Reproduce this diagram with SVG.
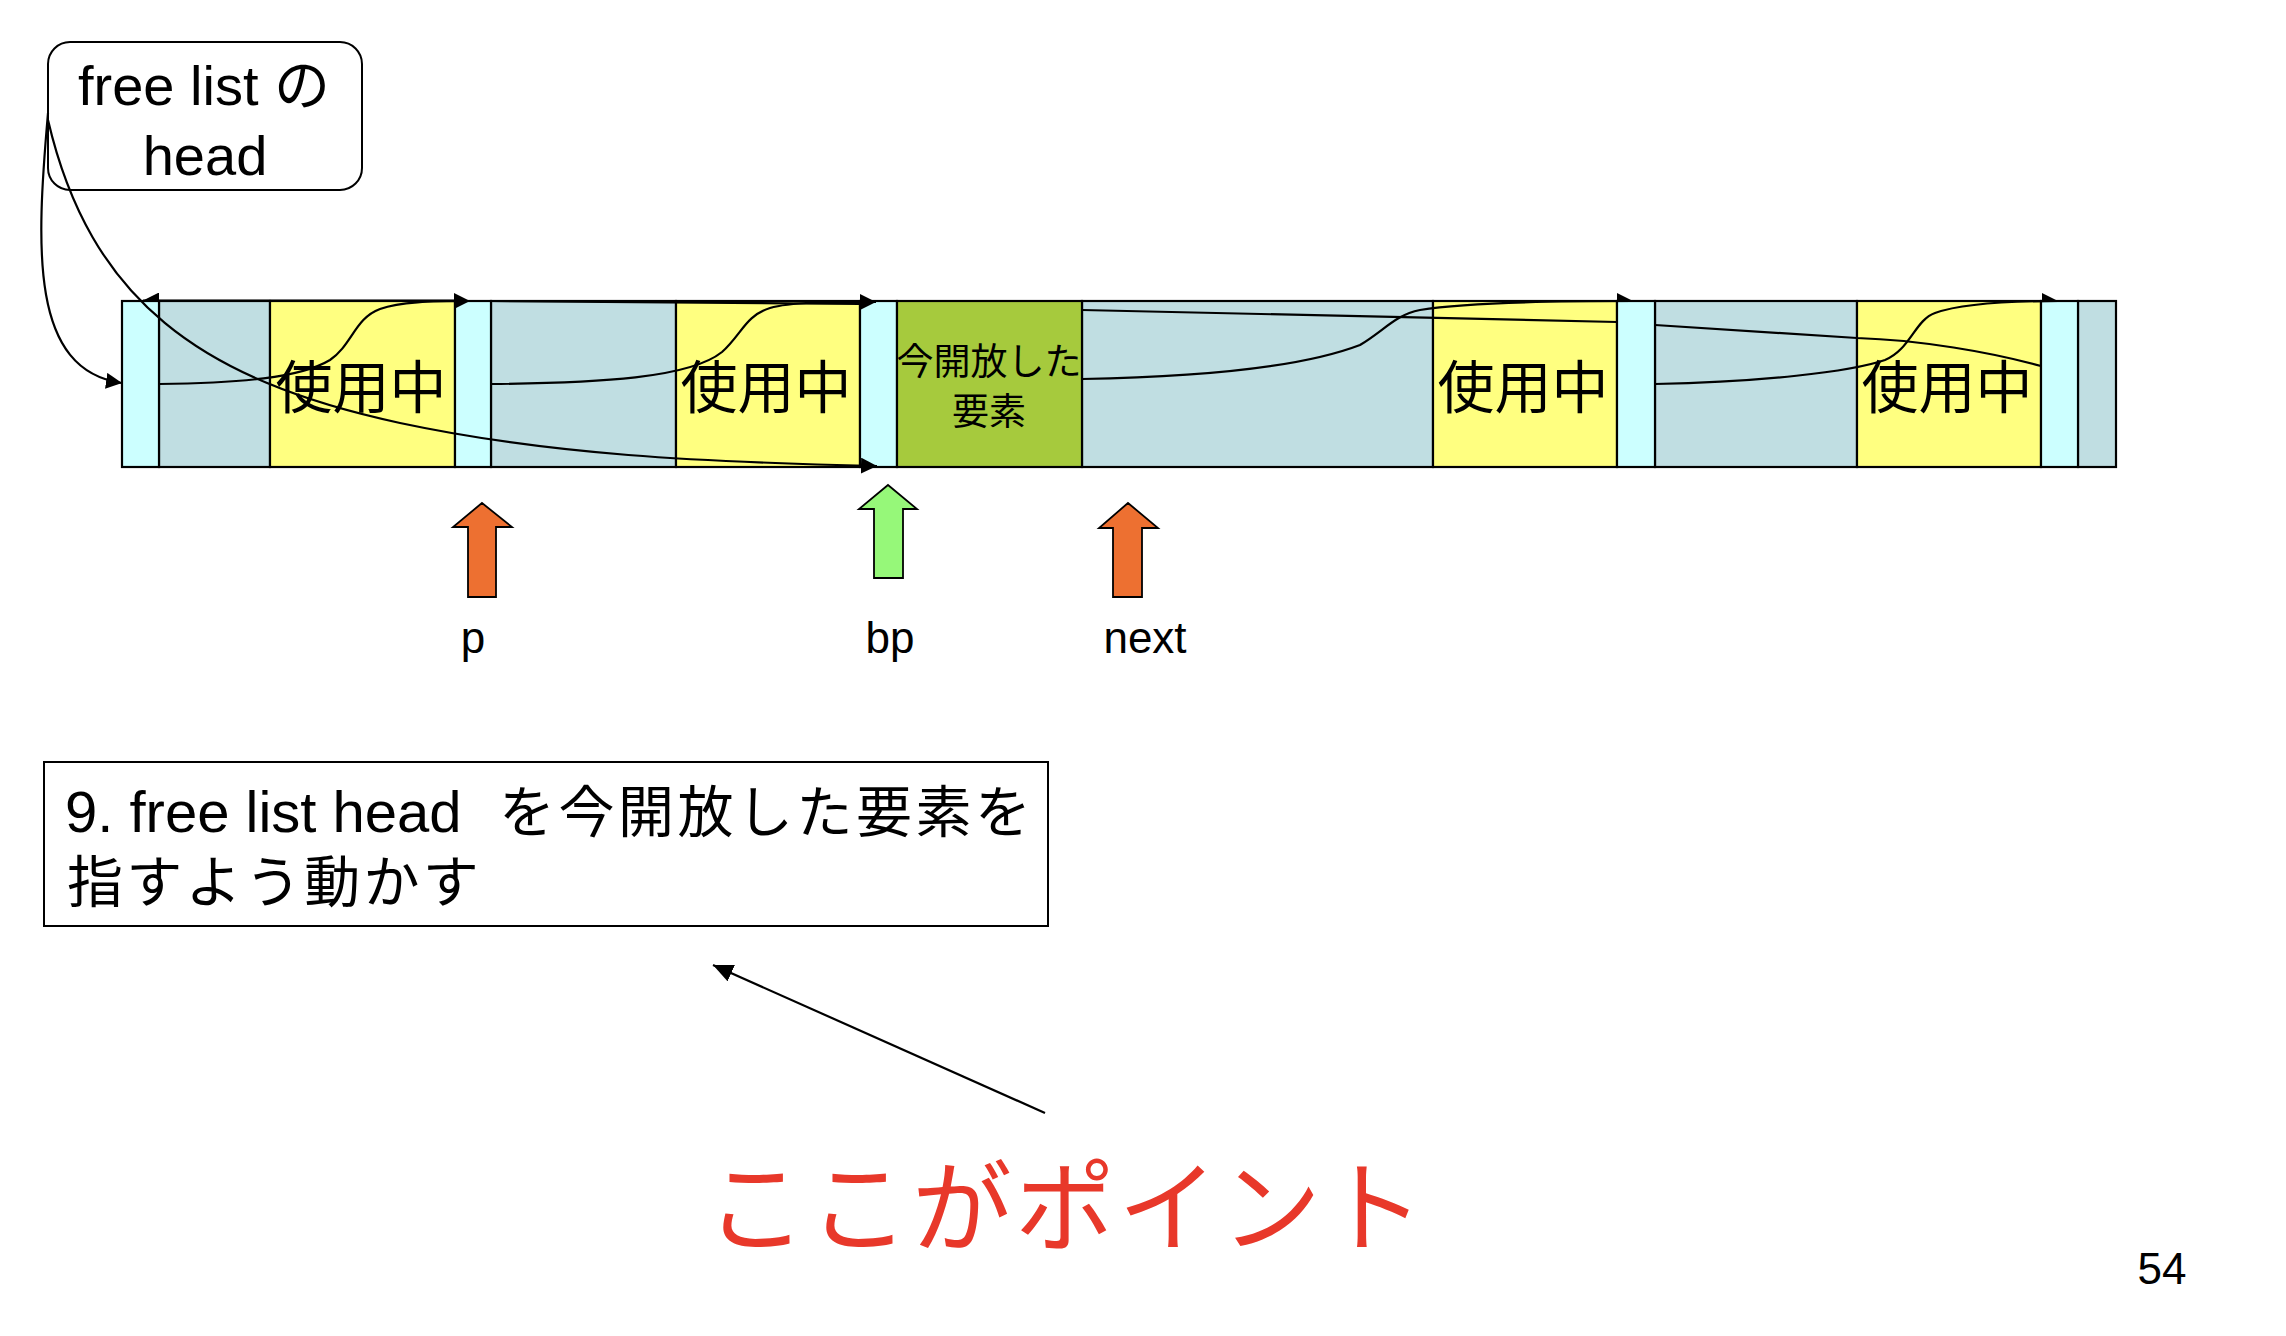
<svg xmlns="http://www.w3.org/2000/svg" width="2286" height="1336" viewBox="0 0 2286 1336">
<defs>
<style>
.t{font-family:'Liberation Sans','Noto Sans CJK JP',sans-serif;fill:#000}
.j{font-family:'Noto Sans CJK JP','Liberation Sans',sans-serif;fill:#000}
.g{fill:#C0DEE2;stroke:#000;stroke-width:2.2}
.y{fill:#FFFF80;stroke:#000;stroke-width:2.2}
.c{fill:#CCFFFF;stroke:#000;stroke-width:2.2}
.gr{fill:#A6CA3D;stroke:#000;stroke-width:2.2}
.ln{fill:none;stroke:#000;stroke-width:2.2}
.ora{fill:#ED7031;stroke:#000;stroke-width:1.8}
.lg{fill:#96F879;stroke:#000;stroke-width:1.8}
</style>
<marker id="ah" viewBox="0 0 16 16" refX="16" refY="8" markerWidth="16" markerHeight="16" markerUnits="userSpaceOnUse" orient="auto"><path d="M0,0 L16,8 L0,16 z" fill="#000"/></marker>
<marker id="ahu" viewBox="0 0 16 16" refX="16" refY="8" markerWidth="16" markerHeight="16" markerUnits="userSpaceOnUse" orient="auto"><path d="M0,0 L16,8 L0,8 z" fill="#000"/></marker>
<marker id="ahl" viewBox="0 0 16 16" refX="16" refY="8" markerWidth="16" markerHeight="16" markerUnits="userSpaceOnUse" orient="auto"><path d="M0,8 L16,8 L0,16 z" fill="#000"/></marker>
<marker id="ah2" viewBox="0 0 20 18" refX="20" refY="9" markerWidth="20" markerHeight="18" markerUnits="userSpaceOnUse" orient="auto"><path d="M0,0 L20,9 L0,18 z" fill="#000"/></marker>
</defs>
<rect width="2286" height="1336" fill="#fff"/>

<g id="freelist-head">
<rect x="48" y="42" width="314" height="148" rx="22" fill="#fff" stroke="#000" stroke-width="2"/>
<text class="t" x="204" y="105" font-size="56" text-anchor="middle">free list の</text>
<text class="t" x="205" y="175" font-size="56" text-anchor="middle">head</text>
</g>

<g id="heap">
<rect class="g" x="159" y="301" width="111" height="166"/>
<rect class="y" x="270" y="301" width="185" height="166"/>
<rect class="g" x="491" y="301" width="185" height="166"/>
<rect class="y" x="676" y="301" width="184" height="166"/>
<rect class="g" x="1082" y="301" width="351" height="166"/>
<rect class="y" x="1433" y="301" width="184" height="166"/>
<rect class="g" x="1655" y="301" width="202" height="166"/>
<rect class="y" x="1857" y="301" width="184" height="166"/>
<rect class="g" x="2078" y="301" width="38" height="166"/>
<g id="header1"><rect class="c" x="122" y="301" width="37" height="166"/></g>
<g id="header2"><rect class="c" x="455" y="301" width="36" height="166"/></g>
<g id="header3"><rect class="c" x="860" y="301" width="37" height="166"/></g>
<g id="freed"><rect class="gr" x="897" y="301" width="185" height="166"/>
<text class="t" font-size="37" text-anchor="middle"><tspan x="989" y="375">今開放した</tspan><tspan x="989" y="425">要素</tspan></text></g>
<g id="header4"><rect class="c" x="1617" y="301" width="38" height="166"/></g>
<g id="header5"><rect class="c" x="2041" y="301" width="37" height="166"/></g>
<text class="j" x="361" y="408" font-size="57" text-anchor="middle">使用中</text>
<text class="j" x="766" y="408" font-size="57" text-anchor="middle">使用中</text>
<text class="j" x="1523" y="408" font-size="57" text-anchor="middle">使用中</text>
<text class="j" x="1947" y="408" font-size="57" text-anchor="middle">使用中</text>
</g>

<g id="connectors">
<path class="ln" d="M2041,366 C1990,352 1920,340 1857,338 L1655,325 M1617,322 L1082,310 M860,304 L491,301 M455,300.6 L143,300.5" marker-end="url(#ahl)"/>
<path class="ln" d="M159,384 C240,383 300,378 330,360 C352,345 355,318 380,309 C400,302 430,301 470,301" marker-end="url(#ah)"/>
<path class="ln" d="M491,384 C600,383 690,378 722,352 C742,334 745,316 770,308 C790,302 830,302 876,302" marker-end="url(#ah)"/>
<path class="ln" d="M1082,379 C1200,377 1300,368 1360,345 C1385,330 1395,315 1420,310 C1470,302 1560,301 1633,301" marker-end="url(#ahu)"/>
<path class="ln" d="M1655,384 C1760,382 1850,372 1885,360 C1910,350 1915,320 1935,313 C1960,304 2000,301 2058,301" marker-end="url(#ahu)"/>
<path class="ln" d="M48,113 C36,250 30,370 122,383" marker-end="url(#ah)"/>
<path class="ln" d="M48,120 C90,300 200,380 400,423 C550,455 700,462 877,466" marker-end="url(#ah)"/>
<path class="ln" d="M1045,1113 L713,965" marker-end="url(#ah2)"/>
</g>

<g id="ptr-p">
<polygon class="ora" points="482,503 512,527 496,527 496,597 468,597 468,527 453,527"/>
<text class="t" x="473" y="653" font-size="44" text-anchor="middle">p</text>
</g>
<g id="ptr-bp">
<polygon class="lg" points="888,485 917,509 903,509 903,578 874,578 874,509 859,509"/>
<text class="t" x="890" y="653" font-size="44" text-anchor="middle">bp</text>
</g>
<g id="ptr-next">
<polygon class="ora" points="1128,503 1158,528 1142,528 1142,597 1113,597 1113,528 1099,528"/>
<text class="t" x="1145" y="653" font-size="44" text-anchor="middle">next</text>
</g>

<g id="step-box">
<rect x="44" y="762" width="1004" height="164" fill="#fff" stroke="#000" stroke-width="2"/>
<text class="t" x="65" y="832" font-size="58"><tspan>9. free list head</tspan><tspan x="499" font-size="56" letter-spacing="3.5">を今開放した要素を</tspan></text>
<text class="t" x="67" y="902" font-size="56" letter-spacing="3.3">指すよう動かす</text>
</g>

<g id="point">
<text class="j" x="706" y="1244" font-size="100" letter-spacing="3" style="fill:#E8382A">ここがポイント</text>
</g>

<g id="page">
<text class="t" x="2162" y="1284" font-size="44" text-anchor="middle">54</text>
</g>
</svg>
